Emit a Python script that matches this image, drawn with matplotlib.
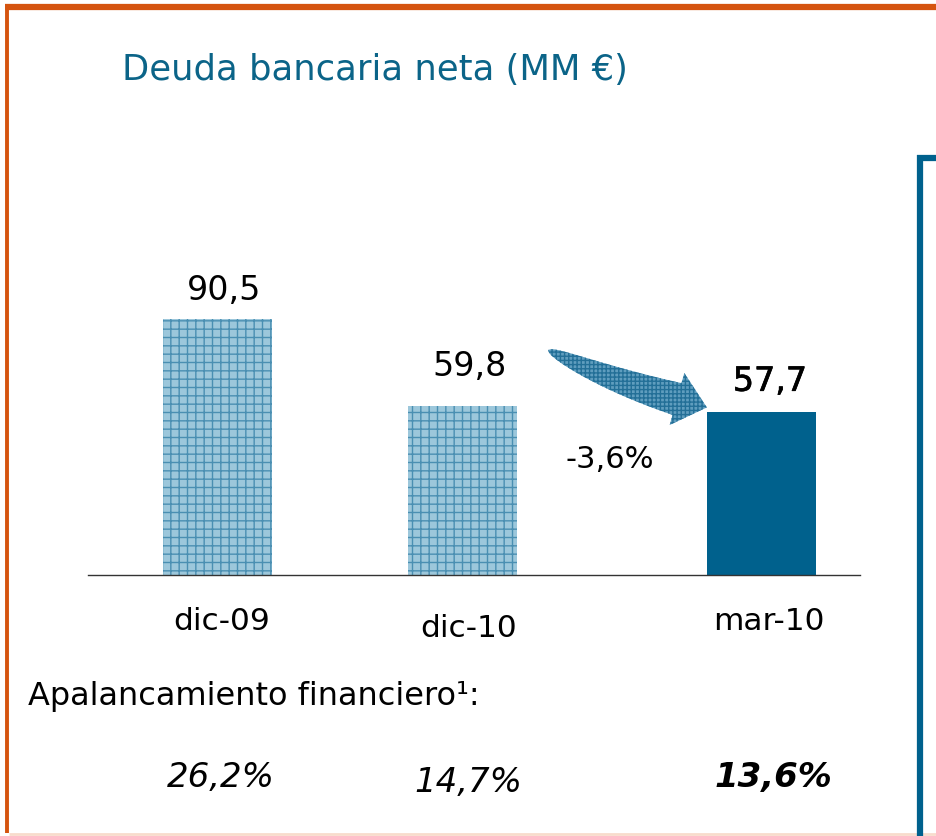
import numpy as np
import matplotlib
matplotlib.use('Agg')
import matplotlib.pyplot as plt
import matplotlib.patheffects as pe
from matplotlib.patches import Polygon
from matplotlib.lines import Line2D

plt.rcParams['font.family'] = ['DejaVu Sans']
plt.rcParams['hatch.linewidth'] = 1.0

# data
categorias = ['dic-09', 'dic-10', 'mar-10']
deuda = [90.5, 59.8, 57.7]
etiquetas = ['90,5', '59,8', '57,7']
apalancamiento = ['26,2%', '14,7%', '13,6%']
variacion = '-3,6%'

xpos = [0, 1, 2.227]

W, H = 936, 837
fig = plt.figure(figsize=(W/100, H/100), dpi=100)

def fx(px):
    return px / W

def fy(py):
    return 1 - py / H

# axes: baseline at y=576 px, 2.83 px per unit
ax = fig.add_axes([fx(88), fy(576), fx(860) - fx(88), (576 - 151.5) / H])
ax.set_xlim(-0.53, 2.628)
ax.set_ylim(0, 150)
for s in ['top', 'right', 'left']:
    ax.spines[s].set_visible(False)
ax.spines['bottom'].set_color('#333333')
ax.spines['bottom'].set_linewidth(1.0)
ax.set_yticks([])
ax.set_xticks([])

claro = '#9cc7db'
rayado = '#4a8fb2'
oscuro = '#00618d'

bars = ax.bar(xpos, deuda, width=0.446, color=[claro, claro, oscuro], linewidth=0)
for b in bars[:2]:
    b.set_hatch('++')
    b.set_edgecolor(rayado)

# value labels
lab_dx = [0.025, 0.029, 0.033]
lab_gap = [7, 11, 7.4]
for i, (x, v, t) in enumerate(zip(xpos, deuda, etiquetas)):
    txt = ax.text(x + lab_dx[i], v + lab_gap[i], t, ha='center', va='baseline', fontsize=24,
                  color='black')
    if i == 2:
        txt.set_path_effects([pe.withStroke(linewidth=0.5, foreground='black')])

# curved tapered arrow (pixel coords of the picture)
p0 = np.array([548, 351.0])
c = np.array([606, 380.0])
p1 = np.array([677, 400.0])
t = np.linspace(0, 1, 50)[:, None]
centro = (1 - t)**2 * p0 + 2 * (1 - t) * t * c + t**2 * p1
deriv = 2 * (1 - t) * (c - p0) + 2 * t * (p1 - c)
tang = deriv / np.linalg.norm(deriv, axis=1)[:, None]
norm = np.column_stack([-tang[:, 1], tang[:, 0]])
ancho = 16.5 * t[:, 0]**0.5
arriba = centro - norm * ancho[:, None]
abajo = centro + norm * ancho[:, None]
dirf = tang[-1]
nf = norm[-1]
cabeza = [p1 - nf * 27, p1 + dirf * 31, p1 + nf * 27]
pts = np.vstack([arriba, cabeza[0:1], cabeza[1:2], cabeza[2:3], abajo[::-1]])
pts_fig = np.column_stack([pts[:, 0] / W, 1 - pts[:, 1] / H])
flecha = Polygon(pts_fig, closed=True, transform=fig.transFigure, facecolor='#5f9dbe',
                 edgecolor='#236f97', hatch='++++', linewidth=0)
fig.add_artist(flecha)

fig.text(fx(610), fy(460), variacion, ha='center', va='center', fontsize=22, color='black')

# category labels under axis
cat_x = [222, 469, 769]
cat_y = [622, 629, 622]
for t_, x, y in zip(categorias, cat_x, cat_y):
    fig.text(fx(x), fy(y), t_, ha='center', va='center', fontsize=22.5, color='black')

# title
fig.text(fx(122), fy(70), 'Deuda bancaria neta (MM €)', ha='left', va='center',
         fontsize=25.5, color='#0b6488')

fig.text(fx(28), fy(697), 'Apalancamiento financiero¹:', ha='left', va='center',
         fontsize=23, color='black')

ap_x = [221, 468, 773]
ap_y = [778, 783, 778]
for i, (t_, x, y) in enumerate(zip(apalancamiento, ap_x, ap_y)):
    fig.text(fx(x), fy(y), t_, ha='center', va='center', fontsize=24.5, style='italic',
             fontweight='bold' if i == 2 else 'normal', color='black')

# frame lines
naranja = '#d5540f'
fig.add_artist(Line2D([fx(5), 1], [fy(8), fy(8)], color=naranja, linewidth=4.5,
                      solid_capstyle='butt'))
fig.add_artist(Line2D([fx(7), fx(7)], [fy(5), fy(834)], color=naranja, linewidth=2.8,
                      solid_capstyle='butt'))
fig.add_artist(Line2D([fx(9), 1], [fy(834.5), fy(834.5)], color='#f8dccc', linewidth=2,
                      solid_capstyle='butt'))
fig.add_artist(Line2D([fx(920), fx(920)], [fy(156), 0], color=oscuro, linewidth=4.5,
                      solid_capstyle='butt'))
fig.add_artist(Line2D([fx(917), 1], [fy(159), fy(159)], color=oscuro, linewidth=4.5,
                      solid_capstyle='butt'))

fig.savefig('out.png', dpi=100)
